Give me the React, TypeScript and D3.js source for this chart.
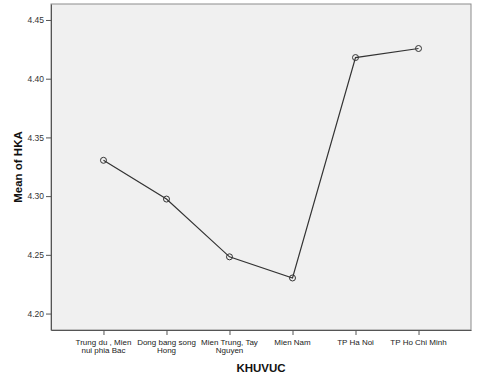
import React, { useEffect, useRef } from "react";
import * as d3 from "d3";

const categories = [
  ["Trung du , Mien", "nui phia Bac"],
  ["Dong bang song", "Hong"],
  ["Mien Trung, Tay", "Nguyen"],
  ["Mien Nam"],
  ["TP Ha Noi"],
  ["TP Ho Chi Minh"]
];
const meanHKA = [4.3305, 4.2975, 4.2483, 4.2303, 4.418, 4.4257];
const yTicks = [4.2, 4.25, 4.3, 4.35, 4.4, 4.45];

const W = 477;
const H = 385;

export default function App() {
  const ref = useRef<SVGSVGElement>(null);

  useEffect(() => {
    const svg = d3.select(ref.current);
    svg.selectAll("*").remove();

    const margin = { top: 4, right: 6, bottom: 55, left: 51 };
    const width = W - margin.left - margin.right;
    const height = H - margin.top - margin.bottom;

    const g = svg
      .append("g")
      .attr("transform", "translate(" + margin.left + "," + margin.top + ")");

    const keys = categories.map((c) => c.join(" "));
    const x = d3.scalePoint<string>().domain(keys).range([0, width]).padding(0.833);
    const y = d3.scaleLinear().domain([4.186, 4.4636]).range([height, 0]);

    g.append("rect")
      .attr("width", width)
      .attr("height", height)
      .attr("fill", "#f0f0f0")
      .attr("stroke", "#8c8c8c")
      .attr("stroke-width", 1);

    // y axis
    const ya = g
      .append("g")
      .call(
        d3.axisLeft(y).tickValues(yTicks).tickFormat(d3.format(".2f"))
          .tickSizeInner(5).tickSizeOuter(0).tickPadding(2)
      );
    ya.select(".domain").attr("stroke", "#555");
    ya.selectAll(".tick line").attr("stroke", "#555");
    ya.selectAll("text")
      .attr("fill", "#333")
      .style("font-family", "Arial, 'Liberation Sans', sans-serif")
      .style("font-size", "8.5px");

    // x axis
    const xa = g
      .append("g")
      .attr("transform", "translate(0," + height + ")")
      .call(d3.axisBottom(x).tickSizeInner(5).tickSizeOuter(0).tickFormat(() => ""));
    xa.select(".domain").attr("stroke", "#555");
    xa.selectAll(".tick line").attr("stroke", "#555");
    xa.selectAll(".tick text").remove();

    categories.forEach((lines, i) => {
      const t = g
        .append("text")
        .attr("x", x(keys[i])!)
        .attr("y", height + 15)
        .attr("text-anchor", "middle")
        .attr("fill", "#222")
        .style("font-family", "Arial, 'Liberation Sans', sans-serif")
        .style("font-size", "8px");
      lines.forEach((l, j) => {
        t.append("tspan")
          .attr("x", x(keys[i])!)
          .attr("dy", j === 0 ? 0 : 7.5)
          .text(l);
      });
    });

    const line = d3
      .line<number>()
      .x((d, i) => x(keys[i])!)
      .y((d) => y(d));

    g.append("path")
      .datum(meanHKA)
      .attr("d", line)
      .attr("fill", "none")
      .attr("stroke", "#333")
      .attr("stroke-width", 1.2);

    g.selectAll(".pt")
      .data(meanHKA)
      .enter()
      .append("circle")
      .attr("class", "pt")
      .attr("cx", (d, i) => x(keys[i])!)
      .attr("cy", (d) => y(d))
      .attr("r", 3)
      .attr("fill", "none")
      .attr("stroke", "#333")
      .attr("stroke-width", 1);

    svg
      .append("text")
      .attr("x", margin.left + width / 2)
      .attr("y", 372)
      .attr("text-anchor", "middle")
      .attr("fill", "#111")
      .style("font-family", "Arial, 'Liberation Sans', sans-serif")
      .style("font-weight", "bold")
      .style("font-size", "11.5px")
      .text("KHUVUC");

    svg
      .append("text")
      .attr("transform", "translate(22," + (margin.top + height / 2) + ") rotate(-90)")
      .attr("text-anchor", "middle")
      .attr("fill", "#111")
      .style("font-family", "Arial, 'Liberation Sans', sans-serif")
      .style("font-weight", "bold")
      .style("font-size", "11.5px")
      .text("Mean of HKA");
  }, []);

  return (
    <svg
      ref={ref}
      width={W}
      height={H}
      style={{ position: "absolute", left: 0, top: 0, background: "#fff" }}
    />
  );
}
